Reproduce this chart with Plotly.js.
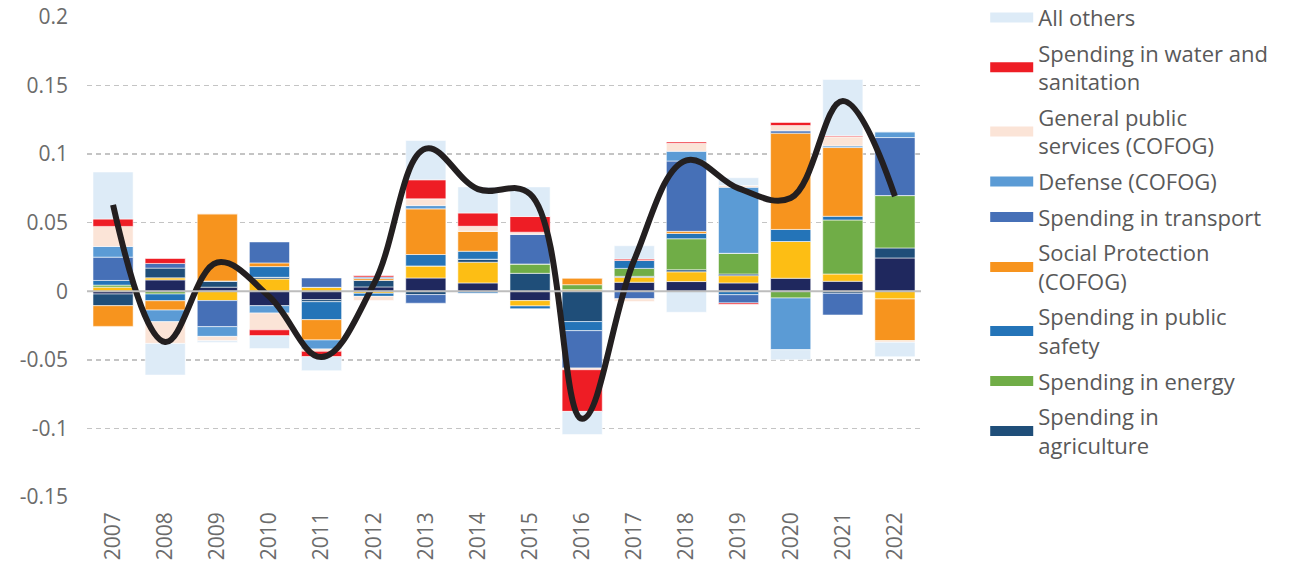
<!DOCTYPE html>
<html>
<head>
<meta charset="utf-8">
<script src="https://cdn.plot.ly/plotly-3.0.1.min.js"></script>
<style>html,body{margin:0;padding:0;background:#fff;}#chart{width:1297px;height:569px;}</style>
</head>
<body>
<div id="chart"></div>
<script>
var years = ['2007','2008','2009','2010','2011','2012','2013','2014','2015','2016','2017','2018','2019','2020','2021','2022'];

// stacking order (bottom first)
var health      = [-0.0020, 0.0083, 0.0030,-0.0105,-0.0061, 0.0032, 0.0097, 0.0061,-0.0068, 0.0000, 0.0066, 0.0071, 0.0061, 0.0095, 0.0073, 0.0243];
var education   = [ 0.0030, 0.0015,-0.0068, 0.0090, 0.0029,-0.0015, 0.0088, 0.0151,-0.0039, 0.0012, 0.0036, 0.0071, 0.0053, 0.0268, 0.0053,-0.0056];
var agriculture = [-0.0085, 0.0071, 0.0045, 0.0012,-0.0015, 0.0049,-0.0024, 0.0022, 0.0131,-0.0221, 0.0007, 0.0015, 0.0012, 0.0000,-0.0015, 0.0073];
var energy      = [ 0.0015,-0.0020, 0.0000, 0.0000, 0.0000, 0.0000, 0.0000, 0.0000, 0.0068, 0.0036, 0.0058, 0.0226, 0.0151,-0.0049, 0.0394, 0.0382];
var publicSafety= [ 0.0034,-0.0049, 0.0000, 0.0078,-0.0131,-0.0022, 0.0083, 0.0058,-0.0020,-0.0066, 0.0058, 0.0039,-0.0025, 0.0088, 0.0027, 0.0000];
var socialProt  = [-0.0151,-0.0068, 0.0490, 0.0027,-0.0148, 0.0012, 0.0333, 0.0146, 0.0000, 0.0049, 0.0000, 0.0015, 0.0000, 0.0702, 0.0501,-0.0304];
var transport   = [ 0.0170, 0.0034,-0.0190, 0.0153, 0.0068, 0.0012,-0.0063, 0.0000, 0.0217,-0.0273,-0.0055, 0.0513,-0.0060, 0.0017,-0.0158, 0.0423];
var defense     = [ 0.0078,-0.0085,-0.0071,-0.0054,-0.0066, 0.0000, 0.0024,-0.0015, 0.0000, 0.0000, 0.0000, 0.0071, 0.0482,-0.0377, 0.0012, 0.0042];
var generalPub  = [ 0.0146,-0.0158,-0.0032,-0.0122,-0.0017,-0.0030, 0.0049, 0.0036, 0.0015,-0.0012,-0.0020, 0.0058, 0.0012, 0.0039, 0.0066,-0.0012];
var water       = [ 0.0054, 0.0036, 0.0000,-0.0044,-0.0039, 0.0012, 0.0139, 0.0097, 0.0114,-0.0304, 0.0010, 0.0010,-0.0010, 0.0022, 0.0008, 0.0000];
var allOthers   = [ 0.0343,-0.0231,-0.0012,-0.0093,-0.0102, 0.0000, 0.0287, 0.0190, 0.0216,-0.0168, 0.0097,-0.0153, 0.0057,-0.0073, 0.0410,-0.0105];

var totalLine   = [ 0.0630,-0.0370, 0.0210,-0.0040,-0.0480, 0.0050, 0.1040, 0.0745, 0.0710,-0.0930, 0.0230, 0.0955, 0.0750, 0.0680, 0.1387, 0.0693];

var yTickVals = [-0.15,-0.1,-0.05,0,0.05,0.1,0.15,0.2];
var yTickText = ['-0.15','-0.1','-0.05','0','0.05','0.1','0.15','0.2'];

var series = [
  {name:'Spending in health', data:health, color:'#1f285e', legend:false},
  {name:'Spending in education', data:education, color:'#fdbe14', legend:false},
  {name:'Spending in<br>agriculture', data:agriculture, color:'#1f4e79', legend:true},
  {name:'Spending in energy', data:energy, color:'#70ad47', legend:true},
  {name:'Spending in public<br>safety', data:publicSafety, color:'#2474b8', legend:true},
  {name:'Social Protection<br>(COFOG)', data:socialProt, color:'#f7941e', legend:true},
  {name:'Spending in transport', data:transport, color:'#4670b7', legend:true},
  {name:'Defense (COFOG)', data:defense, color:'#5b9bd5', legend:true},
  {name:'General public<br>services (COFOG)', data:generalPub, color:'#fbe4d7', legend:true},
  {name:'Spending in water and<br>sanitation', data:water, color:'#ee1d25', legend:true},
  {name:'All others', data:allOthers, color:'#ddebf7', legend:true}
];

var FONT = '"Open Sans", Lato, sans-serif';
var traces = [];
series.forEach(function(s){
  traces.push({
    type:'bar', x:years, y:s.data, name:s.name, showlegend:false,
    marker:{color:s.color, line:{color:'rgba(255,255,255,0.55)', width:1}},
    hoverinfo:'x+y+name'
  });
});
traces.push({
  type:'scatter', mode:'lines', x:years, y:totalLine, name:'Total', showlegend:false,
  line:{color:'#231f20', width:6, shape:'spline', smoothing:1.1}
});
// legend entries (reverse of stacking order)
series.slice().reverse().forEach(function(s, i){
  if(!s.legend) return;
  traces.push({
    type:'scatter', mode:'lines', x:[null], y:[null], name:s.name, legendgroup:'g'+i,
    line:{color:s.color, width:11}, hoverinfo:'skip'
  });
});

var layout = {
  width:1297, height:569,
  margin:{l:87, r:376, t:17, b:72, pad:0, autoexpand:false},
  paper_bgcolor:'#fff', plot_bgcolor:'#fff',
  barmode:'relative', bargap:0.23,
  font:{family:FONT, color:'#6b6b6b', size:21},
  xaxis:{type:'category', tickangle:-90, tickfont:{size:21, color:'#6b6b6b'},
         showgrid:false, zeroline:false, showline:false, ticks:'', ticklabelstandoff:10,
         range:[-0.5,15.5], automargin:false},
  yaxis:{range:[-0.15,0.2], tickvals:yTickVals, ticktext:yTickText,
         tickfont:{size:21, color:'#6b6b6b'}, showgrid:true, gridcolor:'#c4c4c4',
         gridwidth:1.5, griddash:'5px,4px', zeroline:false, showline:false, ticks:'',
         ticklabelstandoff:18, automargin:false},
  showlegend:true,
  legend:{x:1.077, xanchor:'left', y:1.0425, yanchor:'top', font:{size:22, color:'#595959', family:FONT},
          itemwidth:43, tracegroupgap:4, traceorder:'grouped', bgcolor:'rgba(0,0,0,0)', maxheight:1000},
  shapes:[{type:'line', xref:'paper', x0:0, x1:1, yref:'y', y0:0, y1:0,
           line:{color:'#bdbdbd', width:2}, layer:'above'}]
};

Plotly.newPlot('chart', traces, layout, {displayModeBar:false, staticPlot:true});
</script>
</body>
</html>
